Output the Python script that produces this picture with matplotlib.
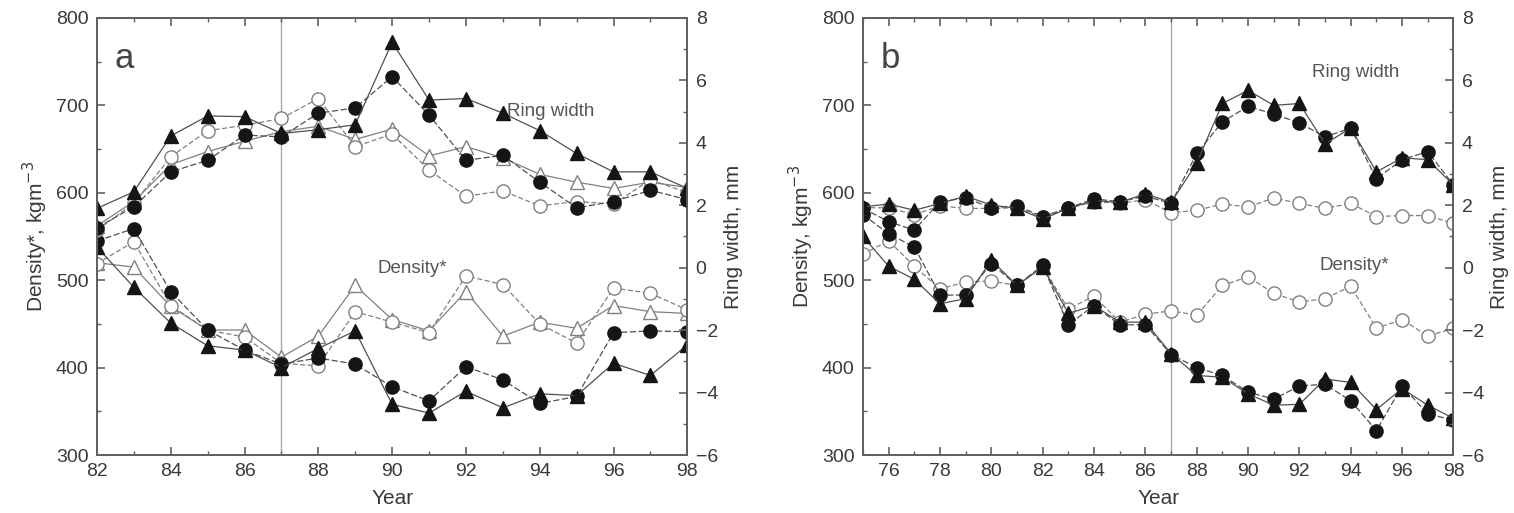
import matplotlib
matplotlib.use("Agg")
from matplotlib import pyplot as plt
from matplotlib.ticker import MultipleLocator

# panel a : years 82..98
years_a = list(range(82, 99))
# ring width, mm
rw_a_ftri = [1.90, 2.43, 4.22, 4.86, 4.84, 4.30, 4.42, 4.58, 7.22, 5.37, 5.42, 4.95, 4.39, 3.66, 3.07, 3.07, 2.54]
rw_a_fcir = [1.28, 1.95, 3.07, 3.44, 4.25, 4.19, 4.95, 5.12, 6.12, 4.89, 3.44, 3.60, 2.74, 1.92, 2.12, 2.48, 2.18]
rw_a_otri = [1.34, 2.12, 3.30, 3.72, 4.05, 4.36, 4.53, 4.11, 4.44, 3.58, 3.88, 3.52, 2.99, 2.74, 2.54, 2.74, 2.57]
rw_a_ocir = [1.20, 2.06, 3.55, 4.39, 4.56, 4.78, 5.42, 3.88, 4.28, 3.13, 2.29, 2.46, 1.98, 2.12, 2.04, 2.82, 2.40]
# density, kg/m3
de_a_ftri = [538, 492, 451, 425, 420, 400, 422, 442, 358, 348, 373, 354, 370, 368, 405, 391, 426]
de_a_fcir = [545, 559, 487, 443, 420, 404, 411, 404, 378, 362, 401, 386, 359, 367, 440, 442, 441]
de_a_otri = [520, 515, 470, 443, 443, 412, 436, 494, 455, 442, 487, 436, 452, 445, 471, 464, 462]
de_a_ocir = [519, 544, 471, 443, 435, 405, 402, 464, 452, 440, 505, 495, 450, 428, 491, 485, 466]

# panel b : years 75..98
years_b = list(range(75, 99))
rw_b_ftri = [1.95, 2.04, 1.84, 2.06, 2.29, 2.01, 1.90, 1.56, 1.90, 2.15, 2.09, 2.37, 2.09, 3.35,
             5.26, 5.68, 5.20, 5.26, 3.97, 4.47, 3.07, 3.52, 3.46, 2.65]
rw_b_fcir = [1.90, 1.48, 1.20, 2.12, 2.23, 1.92, 1.98, 1.64, 1.92, 2.20, 2.12, 2.29, 2.06, 3.66,
             4.67, 5.17, 4.92, 4.64, 4.19, 4.47, 2.85, 3.46, 3.72, 2.65]
rw_b_ocir = [1.92, 1.92, 1.70, 1.98, 1.90, 1.90, 1.92, 1.62, 1.90, 2.12, 2.06, 2.18, 1.76, 1.84,
             2.04, 1.95, 2.23, 2.06, 1.90, 2.06, 1.64, 1.67, 1.67, 1.42]
de_b_ftri = [550, 516, 501, 473, 479, 523, 494, 515, 462, 471, 452, 452, 416, 391,
             389, 370, 357, 358, 387, 383, 352, 376, 357, 342]
de_b_fcir = [575, 553, 538, 483, 483, 519, 494, 517, 449, 471, 449, 449, 415, 400,
             391, 372, 364, 379, 381, 362, 328, 379, 347, 340]
de_b_ocir = [530, 545, 516, 490, 498, 499, 494, 516, 467, 482, 452, 461, 465, 460,
             494, 504, 485, 475, 479, 493, 445, 455, 436, 445]

DARK = "#151515"
LINE = "#505050"
OPEN = "#808080"
AXC = "#606060"
TXT = "#3a3a3a"

styles = {
    "ftri": dict(marker="^", mfc=DARK, mec=DARK, color=LINE, ls="-"),
    "fcir": dict(marker="o", mfc=DARK, mec=DARK, color=LINE, ls=(0, (5, 2))),
    "otri": dict(marker="^", mfc="white", mec=OPEN, color=OPEN, ls="-"),
    "ocir": dict(marker="o", mfc="white", mec=OPEN, color=OPEN, ls=(0, (4, 2))),
}

plt.rcParams["font.family"] = ["Liberation Sans", "DejaVu Sans"]

fig = plt.figure(figsize=(15.14, 5.13), dpi=100)


def draw(ax, yrs, rw, de, xlim, xmaj, ylab, lab, notes):
    ax2 = ax.twinx()
    for key, vals in de:
        ax.plot(yrs, vals, ms=9.5, lw=0.9, mew=1.0, **styles[key])
    for key, vals in rw:
        ax2.plot(yrs, vals, ms=9.5, lw=0.9, mew=1.0, **styles[key])
    ax.axvline(87, color="#aaaaaa", lw=1.0, zorder=0)
    ax.set_xlim(*xlim)
    ax.set_ylim(300, 800)
    ax2.set_ylim(-6, 8)
    ax.xaxis.set_major_locator(MultipleLocator(xmaj))
    ax.xaxis.set_minor_locator(MultipleLocator(1))
    ax.yaxis.set_major_locator(MultipleLocator(100))
    ax.yaxis.set_minor_locator(MultipleLocator(50))
    ax2.yaxis.set_major_locator(MultipleLocator(2))
    ax2.yaxis.set_minor_locator(MultipleLocator(1))
    for a in (ax, ax2):
        for s in a.spines.values():
            s.set_color(AXC)
            s.set_linewidth(1.3)
        a.tick_params(which="both", direction="in", colors=AXC, labelcolor=TXT,
                      labelsize=14, pad=6)
        a.tick_params(which="major", length=6, width=1.2)
        a.tick_params(which="minor", length=3, width=1.0)
    ax.tick_params(which="both", top=True)
    ax.set_xlabel("Year", fontsize=15, color=TXT, labelpad=6)
    ax.set_ylabel(ylab, fontsize=15, color=TXT, labelpad=4)
    ax2.set_ylabel("Ring width, mm", fontsize=15, color=TXT, labelpad=4)
    ax.text(0.03, 0.885, lab, transform=ax.transAxes, fontsize=25, color="#444444")
    for txt, x, y in notes:
        ax.text(x, y, txt, fontsize=13.5, color="#555555")
    return ax2


ax_a = fig.add_axes([0.064, 0.113, 0.390, 0.852])
draw(ax_a, years_a,
     [("otri", rw_a_otri), ("ocir", rw_a_ocir), ("fcir", rw_a_fcir), ("ftri", rw_a_ftri)],
     [("otri", de_a_otri), ("ocir", de_a_ocir), ("fcir", de_a_fcir), ("ftri", de_a_ftri)],
     (82, 98), 2, "Density*, kgm$^{-3}$", "a",
     [("Ring width", 93.1, 688), ("Density*", 89.6, 508)])

ax_b = fig.add_axes([0.570, 0.113, 0.390, 0.852])
draw(ax_b, years_b,
     [("ocir", rw_b_ocir), ("fcir", rw_b_fcir), ("ftri", rw_b_ftri)],
     [("ocir", de_b_ocir), ("fcir", de_b_fcir), ("ftri", de_b_ftri)],
     (75, 98), 2, "Density, kgm$^{-3}$", "b",
     [("Ring width", 92.5, 733), ("Density*", 92.8, 512)])

fig.savefig("out.png", dpi=100)
